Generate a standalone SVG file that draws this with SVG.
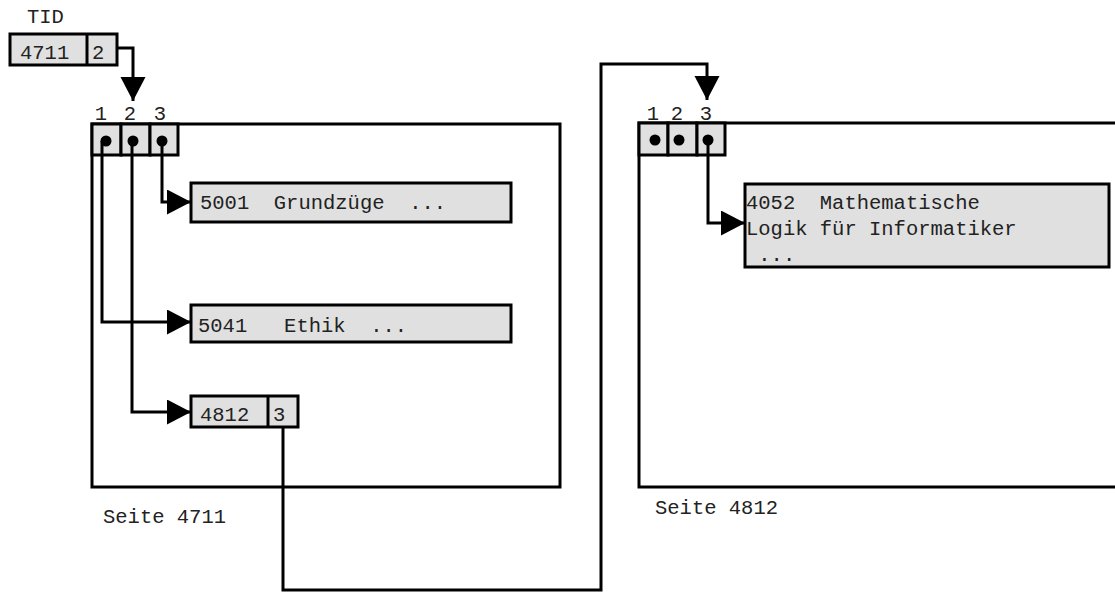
<svg xmlns="http://www.w3.org/2000/svg" width="1115" height="592" viewBox="0 0 1115 592">
<defs>
<style>
.t{font-family:"Liberation Mono","Courier New",monospace;font-size:20.5px;fill:#222;}
.c{text-anchor:middle;}
.box{fill:#e0e0e0;stroke:#000;stroke-width:3;}
.page{fill:none;stroke:#000;stroke-width:3;}
.ln{fill:none;stroke:#000;stroke-width:3;}
.dot{fill:#000;}
</style>
<marker id="ah" markerUnits="userSpaceOnUse" markerWidth="26" markerHeight="26" refX="24" refY="12.5" orient="auto">
<path d="M0,0 L24,12.5 L0,25 z" fill="#000"/>
</marker>
</defs>
<rect width="1115" height="592" fill="#fff"/>

<g id="tid">
<text class="t" x="27" y="23">TID</text>
<rect class="box" x="10" y="34" width="107" height="31"/>
<line class="ln" x1="87" y1="34" x2="87" y2="65"/>
<text class="t" x="20" y="59">4711</text>
<text class="t" x="92" y="59">2</text>
</g>

<g id="page4711">
<rect class="page" x="92" y="124" width="468" height="363"/>
<rect class="box" x="92" y="124" width="29" height="31"/>
<rect class="box" x="121" y="124" width="29" height="31"/>
<rect class="box" x="150" y="124" width="28" height="31"/>
<circle class="dot" cx="106" cy="141" r="5.5"/>
<circle class="dot" cx="133" cy="141" r="5.5"/>
<circle class="dot" cx="162" cy="141" r="5.5"/>
<text class="t c" x="101" y="120">1</text>
<text class="t c" x="130" y="120">2</text>
<text class="t c" x="160" y="120">3</text>
<text class="t" x="103" y="523">Seite 4711</text>
</g>

<g id="rec5001">
<rect class="box" x="191" y="183" width="320" height="39"/>
<text class="t" x="200" y="209" xml:space="preserve">5001  Grundzüge  ...</text>
</g>

<g id="rec5041">
<rect class="box" x="191" y="305" width="320" height="37"/>
<text class="t" x="198" y="332" xml:space="preserve">5041   Ethik  ...</text>
</g>

<g id="rec4812">
<rect class="box" x="191" y="396" width="107" height="31"/>
<line class="ln" x1="268" y1="396" x2="268" y2="427"/>
<text class="t" x="200" y="421">4812</text>
<text class="t" x="273" y="421">3</text>
</g>

<g id="page4812">
<rect class="page" x="639" y="123" width="490" height="364"/>
<rect class="box" x="639" y="123" width="29" height="32"/>
<rect class="box" x="668" y="123" width="29" height="32"/>
<rect class="box" x="697" y="123" width="28" height="32"/>
<circle class="dot" cx="655" cy="140" r="5.5"/>
<circle class="dot" cx="679" cy="140" r="5.5"/>
<circle class="dot" cx="708" cy="140" r="5.5"/>
<text class="t c" x="653" y="120">1</text>
<text class="t c" x="677" y="120">2</text>
<text class="t c" x="706" y="120">3</text>
<text class="t" x="655" y="514">Seite 4812</text>
</g>

<g id="rec4052">
<rect class="box" x="745" y="184" width="364" height="83"/>
<text class="t" x="746" y="209" xml:space="preserve">4052  Mathematische</text>
<text class="t" x="746" y="235">Logik für Informatiker</text>
<text class="t" x="746" y="261" xml:space="preserve"> ...</text>
</g>

<g id="connectors">
<path class="ln" d="M117,48 H133 V101" marker-end="url(#ah)"/>
<path class="ln" d="M162,141 V202 H191" marker-end="url(#ah)"/>
<path class="ln" d="M102,141 V322 H191" marker-end="url(#ah)"/>
<path class="ln" d="M132,141 V412 H191" marker-end="url(#ah)"/>
<path class="ln" d="M283,427 V590 H601 V64 H707 V100" marker-end="url(#ah)"/>
<path class="ln" d="M708,140 V223 H745" marker-end="url(#ah)"/>
</g>
</svg>
